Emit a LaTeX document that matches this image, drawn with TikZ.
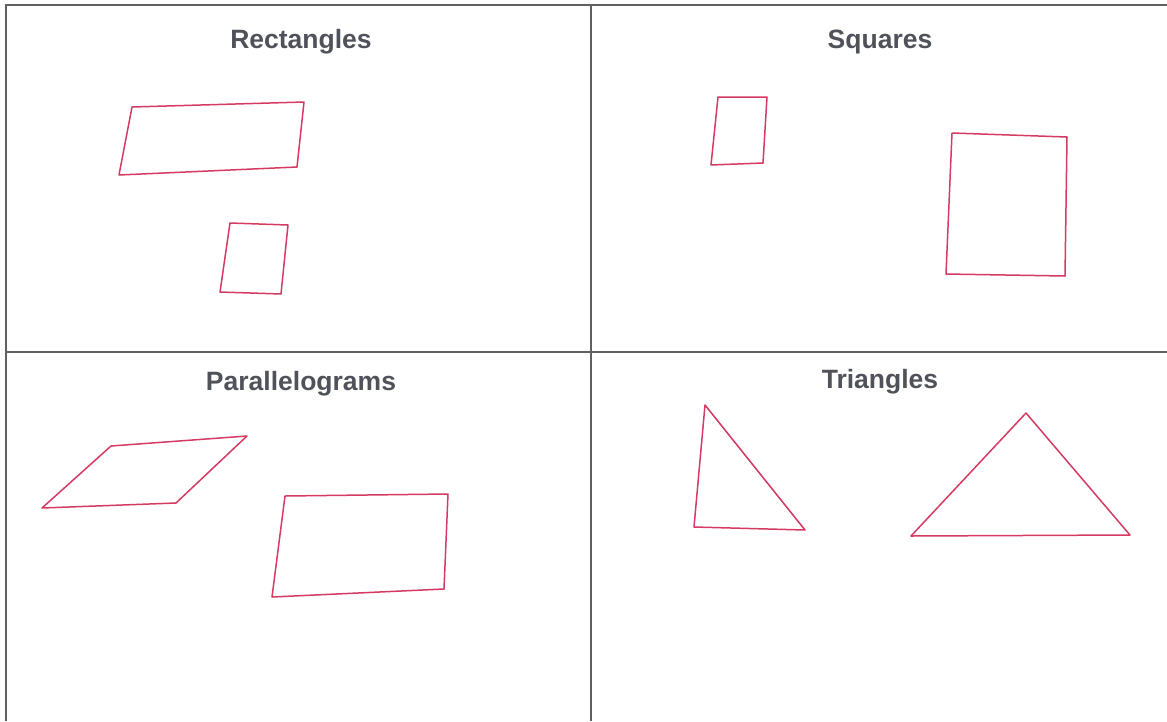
\documentclass[tikz,border=0pt]{standalone}
\usepackage{fontspec}
\setmainfont{Liberation Sans}
\usetikzlibrary{positioning}

\definecolor{gridgray}{RGB}{95,95,100}
\definecolor{titlegray}{RGB}{80,82,90}
\definecolor{penred}{RGB}{212,58,98}

\begin{document}
\begin{tikzpicture}[
    x=1pt, y=-1pt,
    grid/.style={draw=gridgray, line width=1.6pt},
    title/.style={anchor=base, text=titlegray, font=\fontsize{26.5}{30}\selectfont\bfseries},
    sketch/.style={draw=penred, line width=1.5pt, line join=round, line cap=round}
]
\useasboundingbox (0,0) rectangle (1167,721);

% Grid
\draw[grid] (6,721) -- (6,5) -- (1167,5);
\draw[grid] (591,5) -- (591,721);
\draw[grid] (6,352) -- (1167,352);

% Titles
\node[title] (rect) at (301,48) {Rectangles};
\node[title] (sq) at (880,48) {Squares};
\node[title] (para) at (301,390) {Parallelograms};
\node[title] (tri) at (880,388) {Triangles};

% Rectangles
\draw[sketch] (132,107) -- (304,102) -- (297,167) -- (119,175) -- cycle;
\draw[sketch] (230,223) -- (288,225) -- (281,294) -- (220,292) -- cycle;

% Squares
\draw[sketch] (718,97) -- (767,97) -- (763,163) -- (711,165) -- cycle;
\draw[sketch] (952,133) -- (1067,137) -- (1065,276) -- (946,274) -- cycle;

% Parallelograms
\draw[sketch] (111,446) -- (247,436) -- (176,503) -- (42,508) -- cycle;
\draw[sketch] (285,496) -- (448,494) -- (444,589) -- (272,597) -- cycle;

% Triangles
\draw[sketch] (705,405) -- (805,530) -- (694,527) -- cycle;
\draw[sketch] (1026,413) -- (1130,535) -- (911,536) -- cycle;

\end{tikzpicture}
\end{document}
